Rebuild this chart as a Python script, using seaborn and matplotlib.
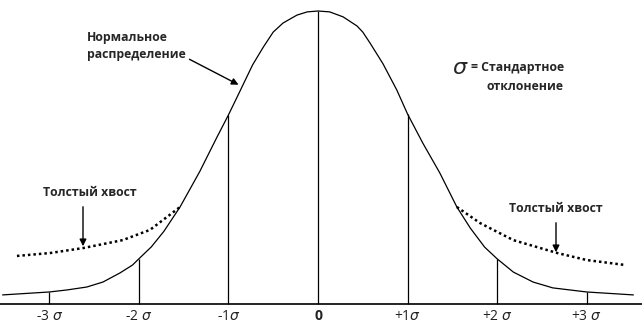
import matplotlib
matplotlib.use("Agg")
import matplotlib.pyplot as plt
import seaborn as sns
import pandas as pd

# ---- data (x in sigma units, y relative height, peak = 1) ----
curve_x = [-3.52, -3.00, -2.80, -2.58, -2.40, -2.21, -2.07, -2.00, -1.86, -1.72, -1.54, -1.32, -1.13, -1.00,
           -0.90, -0.73, -0.61, -0.50, -0.39, -0.235, -0.12, 0.00,
           0.13, 0.28, 0.435, 0.50, 0.58, 0.725, 0.88, 1.00, 1.17, 1.36, 1.55, 1.70, 1.86, 2.00, 2.18, 2.40, 2.62,
           3.00, 3.52]
curve_y = [0.031, 0.041, 0.048, 0.058, 0.075, 0.106, 0.133, 0.154, 0.195, 0.248, 0.331, 0.452, 0.568, 0.645,
           0.708, 0.816, 0.877, 0.928, 0.959, 0.986, 0.997, 1.000,
           0.997, 0.980, 0.949, 0.928, 0.891, 0.820, 0.730, 0.648, 0.549, 0.447, 0.331, 0.259, 0.194, 0.154, 0.109,
           0.075, 0.055, 0.041, 0.031]
left_tail_x = [-3.36, -2.99, -2.62, -2.18, -1.875, -1.54]
left_tail_y = [0.164, 0.174, 0.191, 0.218, 0.253, 0.331]
right_tail_x = [1.55, 1.81, 2.18, 2.67, 3.00, 3.43]
right_tail_y = [0.331, 0.276, 0.218, 0.174, 0.150, 0.133]
sigma_pos = [-3, -2, -1, 0, 1, 2, 3]
sigma_h = [0.041, 0.154, 0.645, 1.000, 0.648, 0.154, 0.041]
tick_labels = ["-3 $\\sigma$", "-2 $\\sigma$", "-1$\\sigma$", "0", "+1$\\sigma$", "+2 $\\sigma$", "+3 $\\sigma$"]

sns.set_theme(style="white")
plt.rcParams['font.family'] = ['Open Sans', 'DejaVu Sans']

fig = plt.figure(figsize=(6.42, 3.35), dpi=100)
ax = fig.add_axes([0, 0, 1, 1])

S, C, B, H = 89.6, 318.0, 304.0, 293.0
def P(px, py):
    return (px - C) / S, (B - py) / H

ax.set_xlim(P(0, 0)[0], P(642, 0)[0])
ax.set_ylim(P(0, 335)[1], P(0, 0)[1])
ax.axis("off")

df = pd.DataFrame({"x": curve_x, "y": curve_y})
sns.lineplot(data=df, x="x", y="y", ax=ax, color="black", lw=0.9, sort=False)
sns.lineplot(x=left_tail_x, y=left_tail_y, ax=ax, color="black", lw=1.8, linestyle=(0, (1, 1.2)), sort=False)
sns.lineplot(x=right_tail_x, y=right_tail_y, ax=ax, color="black", lw=1.8, linestyle=(0, (1, 1.2)), sort=False)

ax.axhline(0, color="black", lw=1.2)
ax.vlines(sigma_pos, 0, sigma_h, color="black", lw=0.9)

for xp, lab in zip(sigma_pos, tick_labels):
    ax.text(xp, P(0, 316)[1], lab, ha="center", va="center", fontsize=10,
            fontweight="bold" if lab == "0" else "normal", color="#222222")

# annotations
ax.text(*P(87, 46), "Нормальное\nраспределение", ha="left", va="center", fontsize=8.8,
        fontweight="bold", linespacing=1.45)
ax.annotate("", xy=P(241, 86), xytext=P(187, 58),
            arrowprops=dict(arrowstyle="-|>", color="black", lw=1.0, mutation_scale=10))

ax.text(*P(452, 68), "$\\sigma$", ha="left", va="center", fontsize=16)
ax.text(*P(471, 68), "= Стандартное", ha="left", va="center", fontsize=8.8, fontweight="bold")
ax.text(*P(486, 87), "отклонение", ha="left", va="center", fontsize=8.8, fontweight="bold")

ax.text(*P(90, 193), "Толстый хвост", ha="center", va="center", fontsize=8.8, fontweight="bold")
ax.annotate("", xy=P(83, 249), xytext=P(83, 204),
            arrowprops=dict(arrowstyle="-|>", color="black", lw=1.0, mutation_scale=10))
ax.text(*P(556, 209), "Толстый хвост", ha="center", va="center", fontsize=8.8, fontweight="bold")
ax.annotate("", xy=P(556, 255), xytext=P(556, 220),
            arrowprops=dict(arrowstyle="-|>", color="black", lw=1.0, mutation_scale=10))

fig.savefig("out.png", dpi=100)
